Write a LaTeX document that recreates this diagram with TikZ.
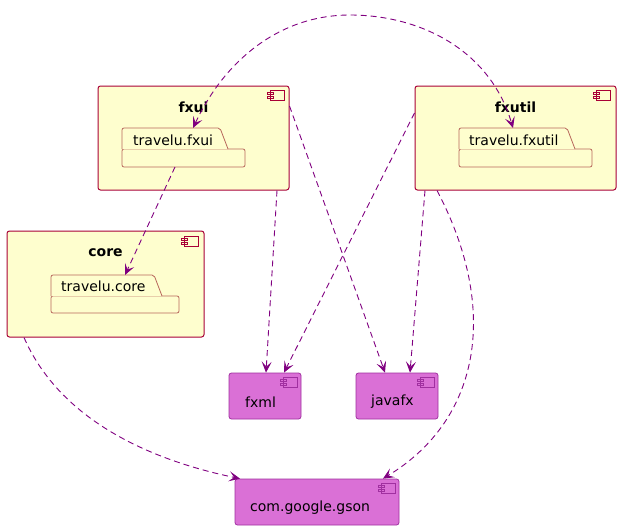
\documentclass[tikz,border=0pt]{standalone}
\usepackage{fontspec}
\setmainfont{DejaVu Sans}
\usetikzlibrary{arrows.meta}
\definecolor{compfill}{HTML}{FEFECE}
\definecolor{compline}{HTML}{A80036}
\definecolor{pkgline}{HTML}{B8675C}
\definecolor{libfill}{HTML}{DA70D6}
\definecolor{libline}{HTML}{A030A0}
\definecolor{arr}{HTML}{800080}
\begin{document}
\begin{tikzpicture}[x=1pt,y=-1pt,
  comp/.style={draw=compline,fill=compfill,line width=1pt,rounded corners=2.5pt,minimum width=#1,inner sep=0pt},
  lib/.style={draw=libline,fill=libfill,line width=0.8pt,rounded corners=2.5pt,minimum width=#1,minimum height=46pt,inner sep=0pt},
  pkgstyle/.style={draw=pkgline,line width=0.8pt,fill=compfill},
  tip/.tip={Stealth[length=11pt,width=10pt,inset=5pt]},
  dep/.style={draw=arr,line width=0.9pt,dash pattern=on 6pt off 4pt,-tip},
  lbl/.style={font=\fontsize{14}{16}\selectfont,inner sep=0pt,anchor=west},
  ttl/.style={font=\fontsize{14}{16}\selectfont\bfseries,inner sep=0pt},
  icon/.style={draw=#1,line width=0.9pt}
]
\useasboundingbox (0,0) rectangle (621,530);

\tikzset{compicon/.pic={
  \draw[icon=#1,fill=none] (-14,-5) rectangle (0,5);
  \draw[icon=#1,fill=none] (-17,-3) rectangle (-11,-1);
  \draw[icon=#1,fill=none] (-17,1) rectangle (-11,3);
}}

% components
\node[comp=191pt,minimum height=104pt] (fxui) at (193.5,138) {};
\node[comp=201pt,minimum height=104pt] (fxutil) at (515.5,138) {};
\node[comp=197pt,minimum height=106pt] (core) at (105.5,284) {};
\pic at (284,95) {compicon=compline};
\pic at (610,95) {compicon=compline};
\pic at (198,241) {compicon=compline};
\node[ttl] (tfxui) at (193.5,107) {fxui};
\node[ttl] (tfxutil) at (515.5,107) {fxutil};
\node[ttl] (tcore) at (105.5,253) {core};

% packages
\draw[pkgstyle,rounded corners=2pt] (122,149) rectangle (245,167);
\draw[pkgstyle,rounded corners=2pt] (122,149) -- (122,128) -- (220,128) -- (228,149);
\node[lbl] (pfxui) at (133,140) {travelu.fxui};
\coordinate (pfxuitop) at (193,128);
\coordinate (pfxuibot) at (175,167);

\draw[pkgstyle,rounded corners=2pt] (459,149) rectangle (592,167);
\draw[pkgstyle,rounded corners=2pt] (459,149) -- (459,128) -- (567,128) -- (575,149);
\node[lbl] (pfxutil) at (469,140) {travelu.fxutil};
\coordinate (pfxutiltop) at (513,128);

\draw[pkgstyle,rounded corners=2pt] (51,296) rectangle (179,313);
\draw[pkgstyle,rounded corners=2pt] (51,296) -- (51,275) -- (154,275) -- (162,296);
\node[lbl] (pcore) at (61,286) {travelu.core};
\coordinate (pcoretop) at (125,275);

% libraries
\node[lib=72pt] (fxml) at (265,396) {};
\node[lib=82pt] (javafx) at (397,396) {};
\node[lib=164pt] (gson) at (317,502) {};
\pic at (297,382) {compicon=libline};
\pic at (434,382) {compicon=libline};
\pic at (395,488) {compicon=libline};
\node[lbl] (tfxml) at (245,402) {fxml};
\node[lbl] (tjavafx) at (371,402) {javafx};
\node[lbl] (tgson) at (250,508) {com.google.gson};

% dependencies
\draw[dep,tip-tip]
  (pfxuitop) .. controls (225,60) and (280,15) .. (350,15)
  .. controls (420,15) and (490,50) .. (pfxutiltop);
\draw[dep] (pfxuibot) -- (pcoretop);
\draw[dep] ([xshift=83.5pt]fxui.south) -- ([xshift=1pt]fxml.north);
\draw[dep] ([yshift=32pt]fxui.east) -- ([xshift=-12pt]javafx.north);
\draw[dep] ([yshift=25pt]fxutil.west) -- ([xshift=19pt]fxml.north);
\draw[dep] ([xshift=-90.5pt]fxutil.south) -- ([xshift=13pt]javafx.north);
\draw[dep] ([xshift=-78.5pt]fxutil.south) .. controls (500,310) and (480,420) .. ([xshift=66pt]gson.north);
\draw[dep] ([xshift=-81.5pt]core.south) .. controls (60,420) and (150,460) .. ([xshift=-77pt]gson.north);
\end{tikzpicture}
\end{document}
